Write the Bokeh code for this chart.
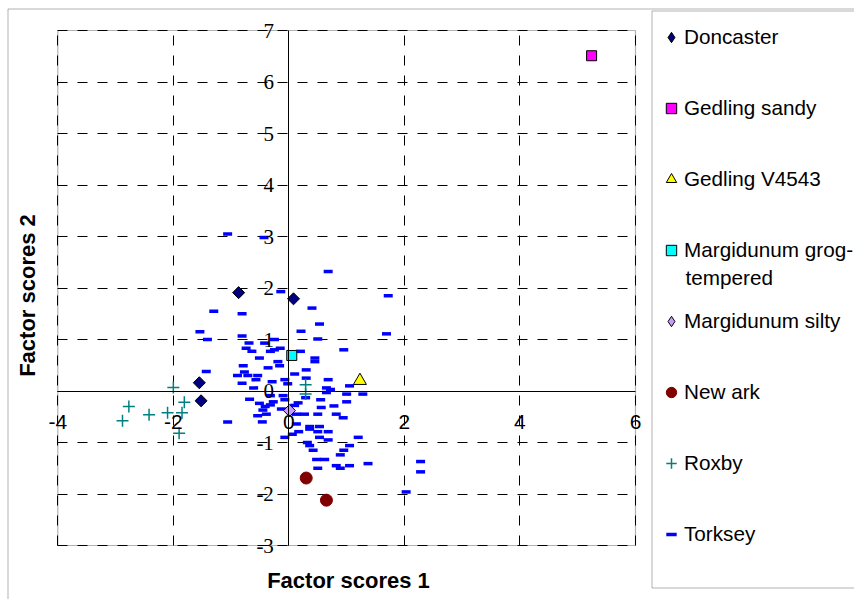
import numpy as np
from bokeh.plotting import figure
from bokeh.models import (FixedTicker, Legend, LegendItem, BoxAnnotation, Label,
                          LabelSet, ColumnDataSource, Range1d, Grid)
from bokeh.embed import file_html
from bokeh.resources import INLINE

# ---------------- data ----------------
x_ticks = [-4, -2, 0, 2, 4, 6]
y_ticks = [-3, -2, -1, 0, 1, 2, 3, 4, 5, 6, 7]

doncaster_x = [-0.87, 0.08, -1.55, -1.52]
doncaster_y = [1.91, 1.79, 0.16, -0.19]

gedling_sandy_x = [5.24]
gedling_sandy_y = [6.51]

gedling_v4543_x = [1.23]
gedling_v4543_y = [0.20]

marg_grog_x = [0.05]
marg_grog_y = [0.69]

marg_silty_x = [0.01]
marg_silty_y = [-0.38]

newark_x = [0.30, 0.65]
newark_y = [-1.69, -2.12]

roxby_x = [-2.77, -2.88, -2.42, -2.10, -2.00, -1.81, -1.85, -1.90, 0.29, 0.29]
roxby_y = [-0.30, -0.58, -0.46, -0.42, 0.07, -0.22, -0.42, -0.82, 0.12, -0.06]

torksey_x = [
    -1.06, -0.43, -0.14, -1.30, -0.81, 0.68, 0.40, 1.72, 0.53, 1.69, 0.21,
    -1.54, -1.41, -0.81, -0.25, -0.69, -0.74, -0.64, -0.42, -0.15, -0.25, -0.32,
    -0.51, -0.19, -0.16, -0.79, -0.36, -0.77, -1.43, -0.89, -0.71, -0.54, -0.57,
    -0.07, -0.29, 0.10, -0.81, -0.61, -0.02, -0.68, -0.51, -0.32, -0.10, -0.07,
    -0.27, -0.32, -0.41, -0.45, -0.13, -0.39, -0.54, -0.46, -1.06, 0.10,
    0.50, 0.95, 0.20, 0.45, 0.45, 0.30, 0.30, 0.68, 1.05, 0.65, 0.72, 0.65, 1.00,
    1.28, 0.29, 0.55, 0.16, 1.00, 0.56, 0.78, 0.27, 0.50, 0.82, 0.94, 0.13,
    0.13, 0.36, 0.53, 0.36, 0.50, 0.68, 0.17, 0.06, -0.07, 0.53, 0.68, 1.20,
    0.32, 0.36, 1.05, 0.95, 0.42, 0.89, 0.48, 0.62, 1.37, 1.05, 0.82, 0.89,
    0.50, 2.28, 2.28, 2.03,
]
torksey_y = [
    3.05, 2.98, 1.93, 1.55, 1.50, 2.32, 1.61, 1.85, 1.30, 1.11, 1.16,
    1.15, 1.00, 1.07, 1.00, 0.93, 0.83, 0.77, 0.93, 0.83, 0.80, 0.77,
    0.64, 0.57, 0.49, 0.49, 0.45, 0.37, 0.38, 0.30, 0.30, 0.30, 0.22,
    0.22, 0.18, 0.33, 0.15, 0.06, 0.14, -0.16, -0.24, -0.09, -0.09, -0.17,
    -0.21, -0.27, -0.30, -0.37, -0.35, -0.45, -0.48, -0.60, -0.60, -0.28,
    1.01, 0.80, 0.77, 0.64, 0.57, 0.41, 0.25, 0.22, 0.10, 0.06, 0.03, -0.03, -0.06,
    -0.06, -0.13, -0.17, -0.23, -0.21, -0.32, -0.29, -0.45, -0.45, -0.45, -0.52, -0.45,
    -0.64, -0.69, -0.69, -0.74, -0.79, -0.79, -0.79, -0.84, -0.90, -0.90, -0.95, -0.90,
    -1.00, -1.06, -1.06, -1.15, -1.15, -1.24, -1.33, -1.33, -1.41, -1.45, -1.45, -1.50,
    -1.50, -1.37, -1.57, -1.96,
]

series_labels = ["Doncaster", "Gedling sandy", "Gedling V4543", "Margidunum grog-",
                 "Margidunum silty", "New ark", "Roxby", "Torksey"]
label_continuation = "tempered"
x_title = "Factor scores 1"
y_title = "Factor scores 2"

FONT = "Liberation Sans"

# ---------------- layout constants (pixels) ----------------
W, H = 854, 599
PX_L, PX_R, PX_T, PX_B = 57.3, 635.0, 30.0, 545.0
X0, X1 = x_ticks[0], x_ticks[-1]
Y0, Y1 = y_ticks[0], y_ticks[-1]
sx = (PX_R - PX_L) / (X1 - X0)
sy = (PX_B - PX_T) / (Y1 - Y0)
xr = Range1d(X0 - PX_L / sx, X1 + (W - PX_R) / sx)
yr = Range1d(Y0 - (H - PX_B) / sy, Y1 + PX_T / sy)

p = figure(width=W, height=H, x_range=xr, y_range=yr,
           output_backend="svg", toolbar_location=None,
           min_border_left=0, min_border_right=0, min_border_top=0,
           min_border_bottom=0)
p.background_fill_color = "white"
p.border_fill_color = "white"
p.outline_line_color = None

xt = FixedTicker(ticks=x_ticks)
yt = FixedTicker(ticks=y_ticks)
p.xaxis.ticker = xt
p.yaxis.ticker = yt

has_cross = "cross_bounds" in Grid.properties()
if has_cross:
    p.xgrid.ticker = xt
    p.ygrid.ticker = yt
    p.xgrid.bounds = (X0, X1)
    p.ygrid.bounds = (Y0, Y1)
    p.xgrid.cross_bounds = (Y0, Y1)
    p.ygrid.cross_bounds = (X0, X1)
    for g in (p.xgrid, p.ygrid):
        g.grid_line_color = "black"
        g.grid_line_dash = "10 10"
        g.grid_line_width = 1
        g.grid_line_alpha = 1
else:
    p.xgrid.visible = False
    p.ygrid.visible = False
    p.segment(x0=x_ticks, x1=x_ticks, y0=[Y0] * len(x_ticks), y1=[Y1] * len(x_ticks),
              line_color="black", line_dash="10 10", line_width=1, level="underlay")
    p.segment(x0=[X0] * len(y_ticks), x1=[X1] * len(y_ticks), y0=y_ticks, y1=y_ticks,
              line_color="black", line_dash="10 10", line_width=1, level="underlay")

p.xaxis.fixed_location = 0
p.yaxis.fixed_location = 0
p.xaxis.bounds = (X0, X1)
p.yaxis.bounds = (Y0, Y1)
p.xaxis.major_label_overrides = {t: str(t) for t in x_ticks}
for ax in (p.xaxis, p.yaxis):
    ax.axis_line_color = "black"
    ax.axis_line_width = 1
    ax.major_tick_line_color = None
    ax.minor_tick_line_color = None
    ax.major_tick_in = 0
    ax.major_tick_out = 0
    ax.major_label_text_font = FONT
    ax.major_label_text_font_size = "21px"
    ax.major_label_text_color = "black"
p.xaxis.major_label_standoff = 24
# y tick labels drawn left of the vertical zero axis
p.yaxis.major_label_text_alpha = 0
ysrc = ColumnDataSource(dict(x=[0] * len(y_ticks), y=y_ticks,
                             t=[str(v) for v in y_ticks]))
p.add_layout(LabelSet(x="x", y="y", text="t", source=ysrc, x_offset=-15,
                      text_align="right", text_baseline="middle",
                      text_font=FONT, text_font_size="21px", text_color="black"))

# plot-area border
p.add_layout(BoxAnnotation(left=X0, right=X1, bottom=Y0, top=Y1,
                           fill_alpha=0, line_color="black", line_width=1.2,
                           level="underlay"))

# axis titles
p.add_layout(Label(x=348, y=H - 580, x_units="screen", y_units="screen",
                   text=x_title, text_font=FONT, text_font_size="22px",
                   text_font_style="bold", text_color="black",
                   text_align="center", text_baseline="middle"))
p.add_layout(Label(x=27, y=H - 295, x_units="screen", y_units="screen",
                   text=y_title, text_font=FONT, text_font_size="22px",
                   text_font_style="bold", text_color="black", angle=np.pi / 2,
                   text_align="center", text_baseline="middle"))

# ---------------- glyphs ----------------
r_tork = p.scatter(torksey_x, torksey_y, marker="dash", size=9, line_width=3.5,
                   line_color="#0000FF")
r_rox = p.scatter(roxby_x, roxby_y, marker="cross", size=12, line_width=1.5,
                  line_color="#008080")
r_new = p.scatter(newark_x, newark_y, marker="circle", size=12,
                  fill_color="#800000", line_color="#800000")
r_don = p.scatter(doncaster_x, doncaster_y, marker="square", angle=np.pi / 4,
                  size=8.5, fill_color="#000080", line_color="black", line_width=1)
r_gs = p.scatter(gedling_sandy_x, gedling_sandy_y, marker="square", size=10,
                 fill_color="#FF00FF", line_color="black", line_width=1)
r_gv = p.scatter(gedling_v4543_x, gedling_v4543_y, marker="triangle", size=13,
                 fill_color="#FFFF00", line_color="black", line_width=1)
r_mg = p.scatter(marg_grog_x, marg_grog_y, marker="square", size=10,
                 fill_color="#00FFFF", line_color="black", line_width=1)
r_ms = p.scatter(marg_silty_x, marg_silty_y, marker="square", angle=np.pi / 4,
                 size=8.5, fill_color="#CC99FF", line_color="black", line_width=1)

# legend-only diamond swatches (legend glyphs are never rotated); hidden in plot
r_don_key = p.scatter(doncaster_x, doncaster_y, marker="diamond",
                      fill_color="#000080", line_color="black", line_width=1,
                      visible=False)
r_ms_key = p.scatter(marg_silty_x, marg_silty_y, marker="diamond",
                     fill_color="#CC99FF", line_color="black", line_width=1,
                     visible=False)

# ---------------- chart & legend frames ----------------
p.add_layout(BoxAnnotation(left=7.5, top=8.5, right=950, bottom=750,
                           left_units="canvas", right_units="canvas",
                           top_units="canvas", bottom_units="canvas",
                           fill_alpha=0, line_color="black", line_width=1,
                           level="underlay"))
p.add_layout(BoxAnnotation(left=651.5, top=10.5, right=950, bottom=587.5,
                           left_units="canvas", right_units="canvas",
                           top_units="canvas", bottom_units="canvas",
                           fill_alpha=0, line_color="black", line_width=1))

renderers = [r_don_key, r_gs, r_gv, r_mg, r_ms_key, r_new, r_rox, r_tork]
items = [LegendItem(label=l, renderers=[r]) for l, r in zip(series_labels, renderers)]
legend = Legend(items=items, location=(658, H - 547), orientation="vertical",
                glyph_width=26, glyph_height=26, label_height=26,
                label_standoff=0, padding=6, spacing=45,
                label_text_font=FONT, label_text_font_size="20.7px",
                label_text_color="black", inactive_fill_alpha=0,
                border_line_color=None, background_fill_alpha=0)
p.add_layout(legend)

p.add_layout(Label(x=685, y=H - 277, x_units="screen", y_units="screen",
                   text=label_continuation, text_font=FONT, text_font_size="20.7px",
                   text_color="black", text_baseline="middle", text_align="left"))

open("out.html", "w").write(file_html(p, INLINE))
